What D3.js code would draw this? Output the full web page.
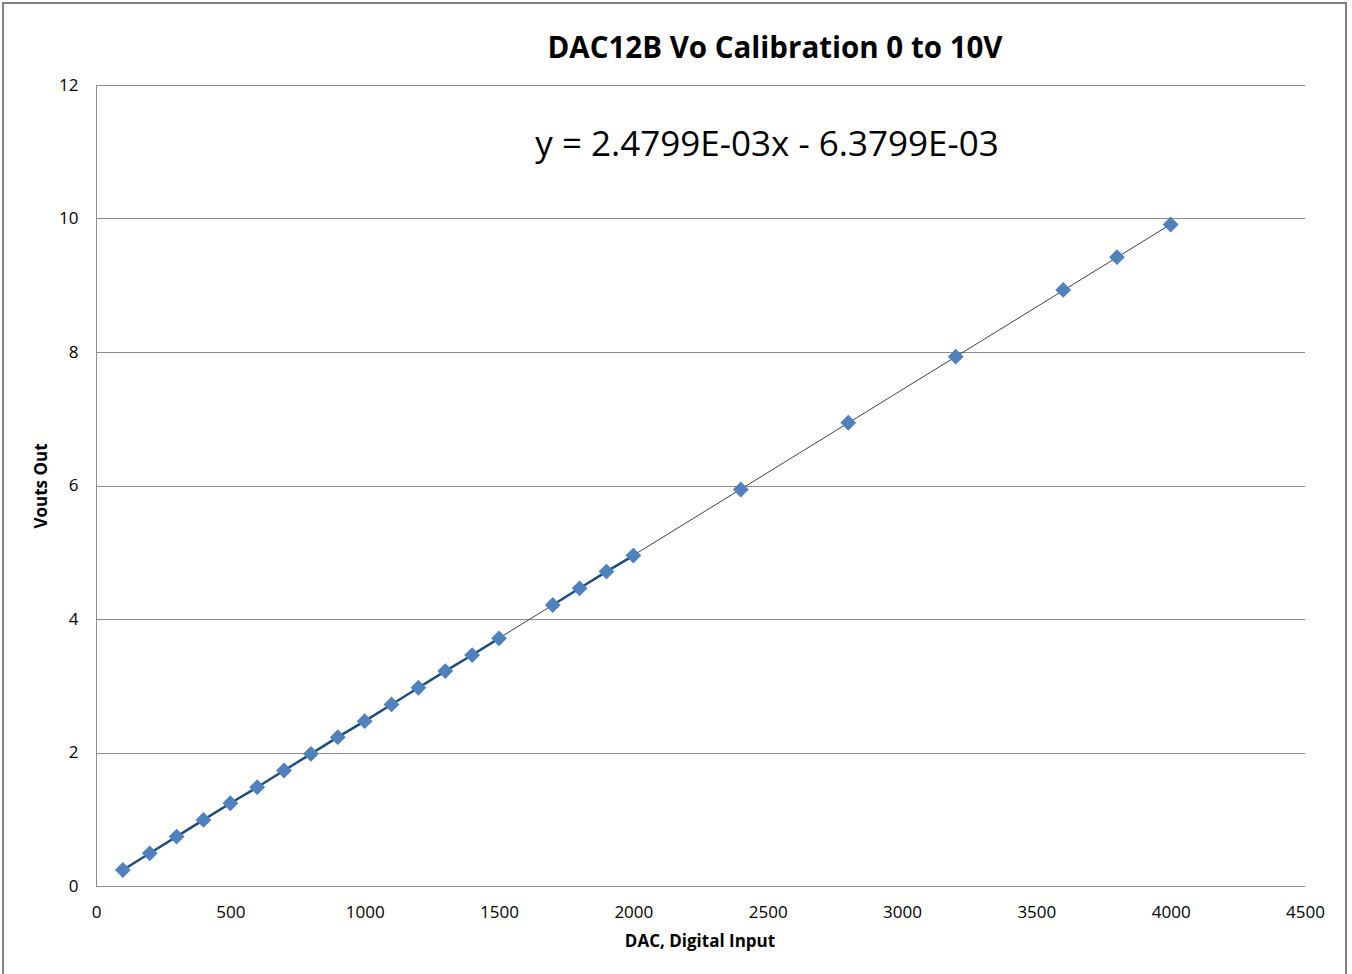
<!DOCTYPE html>
<html>
<head>
<meta charset="utf-8">
<script src="https://cdn.jsdelivr.net/npm/d3@7"></script>
<style>
    body { margin: 0; background: #fff; }
    svg text { font-family: "Open Sans", "Noto Sans", sans-serif; fill: #000; }
    .grid line { stroke: #8c8c8c; stroke-width: 1; }
    .axis path { stroke: #8c8c8c; }
    .axis line { display: none; }
    .axis text { font-size: 17px; }
</style>
</head>
<body>
<svg id="chart" width="1352" height="974"></svg>
<script>
// measured points, DAC code -> volts
var dacInput = [100, 200, 300, 400, 500, 600, 700, 800, 900, 1000, 1100, 1200, 1300, 1400, 1500,
    1700, 1800, 1900, 2000, 2400, 2800, 3200, 3600, 3800, 4000];
var voutMeasured = [0.24, 0.49, 0.74, 0.99, 1.24, 1.48, 1.73, 1.98, 2.23, 2.47, 2.72, 2.97, 3.22, 3.46, 3.71,
    4.21, 4.46, 4.71, 4.95, 5.94, 6.94, 7.93, 8.93, 9.42, 9.91];
// trendline from the fit label
var fitSlope = 2.4799e-3;
var fitIntercept = -6.3799e-3;
var xTicks = [0, 500, 1000, 1500, 2000, 2500, 3000, 3500, 4000, 4500];
var yTicks = [0, 2, 4, 6, 8, 10, 12];

var svg = d3.select('#chart');
var margin = {left: 96, top: 85, right: 1305, bottom: 886};

var x = d3.scaleLinear().domain([0, 4500]).range([margin.left, margin.right]);
var y = d3.scaleLinear().domain([0, 12]).range([margin.bottom, margin.top]);

// outer frame
svg.append('rect')
    .attr('x', 3).attr('y', 3)
    .attr('width', 1343).attr('height', 990)
    .attr('fill', 'none')
    .attr('stroke', '#7f7f7f')
    .attr('stroke-width', 2);

// horizontal gridlines
svg.append('g').attr('class', 'grid')
    .selectAll('line')
    .data(yTicks.filter(function(d) { return d > 0; }))
    .enter().append('line')
    .attr('x1', margin.left).attr('x2', margin.right)
    .attr('y1', function(d) { return Math.round(y(d)) + 0.5; })
    .attr('y2', function(d) { return Math.round(y(d)) + 0.5; });

// axes
var xAxis = svg.append('g').attr('class', 'axis')
    .attr('transform', 'translate(0,' + (margin.bottom + 0.5) + ')')
    .call(d3.axisBottom(x).tickValues(xTicks).tickSize(0).tickPadding(19).tickFormat(d3.format('d')));
xAxis.select('.domain').attr('d', 'M' + margin.left + ',0H' + margin.right);

var yAxis = svg.append('g').attr('class', 'axis')
    .attr('transform', 'translate(' + (margin.left + 0.5) + ',0)')
    .call(d3.axisLeft(y).tickValues(yTicks).tickSize(0).tickPadding(18).tickFormat(d3.format('d')));
yAxis.select('.domain').attr('d', 'M0,' + margin.top + 'V' + margin.bottom);

// trendline
svg.append('line')
    .attr('x1', x(dacInput[0]))
    .attr('y1', y(fitSlope * dacInput[0] + fitIntercept))
    .attr('x2', x(dacInput[dacInput.length - 1]))
    .attr('y2', y(fitSlope * dacInput[dacInput.length - 1] + fitIntercept))
    .attr('stroke', '#404040')
    .attr('stroke-width', 1);

// series line, only joins points 100 codes apart (gaps in the data otherwise)
var pts = dacInput.map(function(d, i) { return {x: d, y: voutMeasured[i]}; });
var segments = [];
var cur = [pts[0]];
for (var i = 1; i < pts.length; i++) {
    if (pts[i].x - pts[i - 1].x === 100) {
        cur.push(pts[i]);
    } else {
        segments.push(cur);
        cur = [pts[i]];
    }
}
segments.push(cur);

var line = d3.line()
    .x(function(d) { return x(d.x); })
    .y(function(d) { return y(d.y); });

svg.append('g').selectAll('path')
    .data(segments.filter(function(s) { return s.length > 1; }))
    .enter().append('path')
    .attr('d', line)
    .attr('fill', 'none')
    .attr('stroke', '#1f4e79')
    .attr('stroke-width', 2.5);

// diamond markers
svg.append('g').selectAll('path')
    .data(pts)
    .enter().append('path')
    .attr('d', d3.symbol().type(d3.symbolSquare).size(125))
    .attr('transform', function(d) { return 'translate(' + x(d.x) + ',' + y(d.y) + ') rotate(45)'; })
    .attr('fill', '#4f81bd');

// titles
svg.append('text')
    .attr('x', 775).attr('y', 58)
    .attr('text-anchor', 'middle')
    .style('font-size', '29.5px').style('font-weight', 'bold')
    .text('DAC12B Vo Calibration 0 to 10V');

svg.append('text')
    .attr('x', 767).attr('y', 156)
    .attr('text-anchor', 'middle')
    .style('font-size', '35px')
    .text('y = 2.4799E-03x - 6.3799E-03');

svg.append('text')
    .attr('x', 700).attr('y', 947)
    .attr('text-anchor', 'middle')
    .style('font-size', '17px').style('font-weight', 'bold')
    .text('DAC, Digital Input');

svg.append('text')
    .attr('transform', 'translate(47,486) rotate(-90)')
    .attr('text-anchor', 'middle')
    .style('font-size', '17px').style('font-weight', 'bold')
    .text('Vouts Out');
</script>
</body>
</html>
